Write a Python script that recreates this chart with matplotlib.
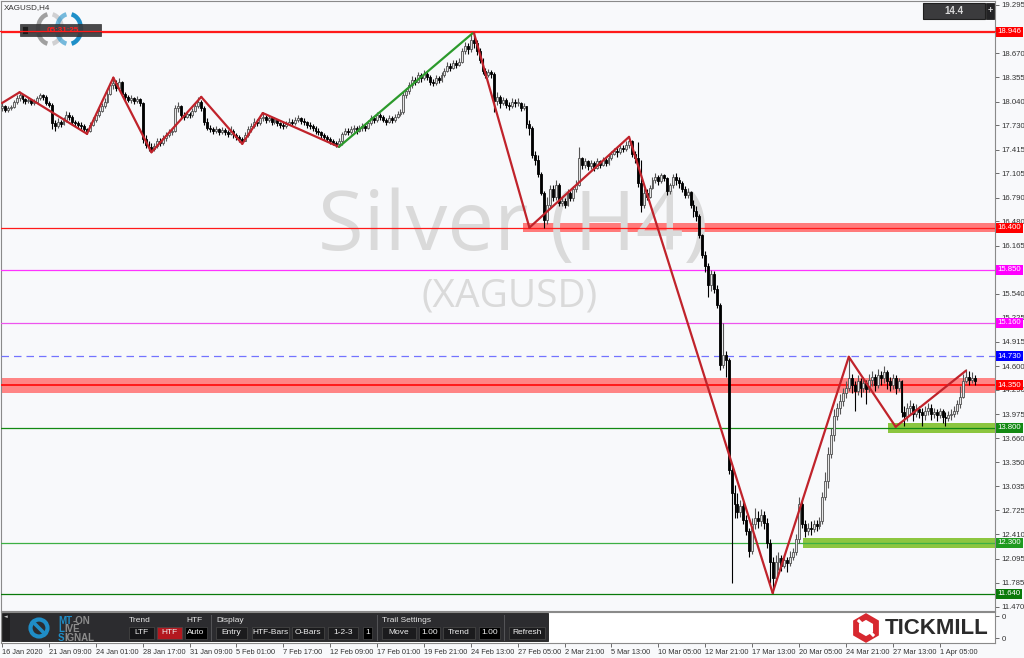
import numpy as np
import matplotlib.pyplot as plt
from matplotlib.patches import Rectangle, Circle, RegularPolygon, Arc
from matplotlib.transforms import blended_transform_factory

plt.rcParams['font.family'] = ['Liberation Sans', 'DejaVu Sans']

W, H = 1024, 658

# ---------------------------------------------------------
# XAGUSD H4 bars (16 Jan 2020 .. 2 Apr 2020)
# ---------------------------------------------------------
first_open = 17.96
close = [
    17.98, 17.93, 17.95, 17.97, 18.03, 18.08, 18.12, 18.07, 18.05, 18.06, 18.02, 18.04, 18.08, 18.12, 18.10, 18.02,
    18.00, 17.76, 17.72, 17.78, 17.75, 17.80, 17.86, 17.84, 17.78, 17.76, 17.74, 17.72, 17.68, 17.66, 17.74, 17.80,
    17.86, 17.92, 17.98, 18.04, 18.14, 18.26, 18.28, 18.22, 18.30, 18.14, 18.10, 18.06, 18.08, 18.05, 18.07, 18.02,
    17.55, 17.48, 17.45, 17.42, 17.46, 17.52, 17.50, 17.56, 17.60, 17.64, 17.66, 17.95, 17.98, 17.86, 17.84, 17.88,
    17.86, 17.92, 17.98, 18.04, 17.96, 17.78, 17.70, 17.68, 17.66, 17.68, 17.65, 17.67, 17.64, 17.62, 17.66, 17.60,
    17.58, 17.55, 17.53, 17.60, 17.68, 17.72, 17.78, 17.76, 17.82, 17.84, 17.80, 17.82, 17.78, 17.80, 17.76, 17.74,
    17.72, 17.75, 17.78, 17.76, 17.80, 17.82, 17.79, 17.77, 17.74, 17.72, 17.70, 17.66, 17.64, 17.60, 17.58, 17.55,
    17.53, 17.50, 17.49, 17.52, 17.62, 17.66, 17.64, 17.68, 17.70, 17.66, 17.69, 17.72, 17.70, 17.76, 17.82, 17.80,
    17.86, 17.84, 17.80, 17.78, 17.82, 17.80, 17.84, 17.88, 17.90, 18.12, 18.18, 18.26, 18.32, 18.30, 18.38, 18.34,
    18.40, 18.36, 18.30, 18.28, 18.34, 18.32, 18.38, 18.44, 18.50, 18.48, 18.54, 18.52, 18.56, 18.70, 18.76, 18.72,
    18.84, 18.80, 18.70, 18.58, 18.44, 18.38, 18.42, 18.40, 18.05, 18.10, 18.02, 18.06, 18.00, 17.98, 18.04, 18.02,
    18.02, 17.95, 17.98, 17.75, 17.70, 17.35, 17.28, 17.10, 16.85, 16.50, 16.70, 16.90, 16.80, 16.95, 16.72, 16.75,
    16.70, 16.85, 16.78, 16.90, 16.96, 17.30, 17.22, 17.26, 17.20, 17.24, 17.18, 17.26, 17.22, 17.28, 17.24, 17.30,
    17.36, 17.40, 17.38, 17.44, 17.42, 17.48, 17.52, 17.36, 17.30, 16.98, 16.70, 16.85, 16.80, 16.92, 17.02, 17.06,
    17.00, 17.08, 17.04, 16.88, 16.95, 17.06, 17.02, 16.98, 16.90, 16.82, 16.86, 16.70, 16.62, 16.55, 16.30, 16.05,
    15.90, 15.65, 15.80, 15.60, 15.40, 14.62, 14.75, 14.68, 13.25, 12.95, 12.80, 12.70, 12.78, 12.60, 12.45, 12.20,
    12.55, 12.62, 12.58, 12.66, 12.56, 12.30, 12.05, 11.85, 12.05, 12.10, 12.00, 12.08, 12.04, 12.12, 12.18, 12.35,
    12.80, 12.55, 12.45, 12.50, 12.48, 12.54, 12.52, 12.58, 12.90, 13.10, 13.45, 13.70, 13.95, 14.05, 14.15, 14.25,
    14.32, 14.45, 14.35, 14.28, 14.40, 14.32, 14.38, 14.30, 14.42, 14.46, 14.36, 14.48, 14.44, 14.52, 14.40, 14.36,
    14.44, 14.32, 14.40, 14.00, 13.95, 14.05, 14.08, 13.98, 14.04, 14.00, 13.96, 14.02, 14.06, 13.98, 14.00, 13.96,
    14.02, 13.94, 13.92, 13.96, 13.98, 14.02, 14.10, 14.20, 14.40, 14.46, 14.42, 14.44, 14.40,
]
high = [
    18.02, 17.99, 17.98, 18.00, 18.06, 18.12, 18.16, 18.13, 18.09, 18.10, 18.07, 18.07, 18.11, 18.15, 18.14, 18.12,
    18.05, 18.02, 17.80, 17.82, 17.80, 17.84, 17.92, 17.90, 17.86, 17.80, 17.79, 17.77, 17.75, 17.70, 17.78, 17.84,
    17.90, 17.96, 18.02, 18.08, 18.18, 18.30, 18.35, 18.32, 18.34, 18.31, 18.16, 18.13, 18.12, 18.10, 18.11, 18.09,
    18.04, 17.60, 17.52, 17.50, 17.50, 17.56, 17.56, 17.60, 17.64, 17.68, 17.70, 17.99, 18.04, 17.99, 17.90, 17.92,
    17.91, 17.96, 18.02, 18.10, 18.06, 17.98, 17.82, 17.73, 17.71, 17.72, 17.70, 17.71, 17.69, 17.67, 17.72, 17.68,
    17.63, 17.61, 17.58, 17.64, 17.72, 17.76, 17.82, 17.81, 17.86, 17.89, 17.86, 17.86, 17.84, 17.84, 17.81, 17.78,
    17.77, 17.79, 17.82, 17.81, 17.84, 17.86, 17.84, 17.82, 17.79, 17.77, 17.75, 17.72, 17.69, 17.66, 17.63, 17.61,
    17.58, 17.55, 17.53, 17.56, 17.65, 17.70, 17.69, 17.72, 17.74, 17.72, 17.73, 17.76, 17.75, 17.80, 17.86, 17.85,
    17.90, 17.89, 17.86, 17.83, 17.86, 17.85, 17.88, 17.92, 17.94, 18.16, 18.22, 18.30, 18.37, 18.36, 18.42, 18.41,
    18.45, 18.43, 18.38, 18.33, 18.38, 18.37, 18.42, 18.48, 18.55, 18.54, 18.58, 18.58, 18.60, 18.74, 18.82, 18.80,
    18.92, 18.94, 18.84, 18.74, 18.60, 18.48, 18.46, 18.45, 18.42, 18.16, 18.12, 18.10, 18.08, 18.04, 18.08, 18.07,
    18.08, 18.04, 18.02, 17.98, 17.80, 17.72, 17.40, 17.35, 17.12, 16.88, 16.80, 16.96, 16.95, 17.02, 16.98, 16.80,
    16.78, 16.90, 16.88, 16.94, 17.02, 17.45, 17.32, 17.30, 17.28, 17.28, 17.26, 17.30, 17.28, 17.32, 17.30, 17.34,
    17.40, 17.44, 17.45, 17.48, 17.48, 17.52, 17.58, 17.54, 17.40, 17.51, 17.28, 16.92, 16.90, 16.96, 17.06, 17.11,
    17.08, 17.11, 17.10, 17.06, 16.98, 17.10, 17.11, 17.06, 17.00, 16.94, 16.92, 16.88, 16.76, 16.68, 16.58, 16.32,
    16.10, 15.94, 15.85, 15.84, 15.66, 15.42, 15.16, 14.80, 14.70, 13.30, 13.05, 12.95, 12.86, 12.84, 12.66, 12.50,
    12.62, 12.75, 12.72, 12.74, 12.72, 12.62, 12.35, 12.12, 12.14, 12.18, 12.14, 12.15, 12.12, 12.20, 12.24, 12.42,
    12.90, 12.86, 12.60, 12.56, 12.58, 12.60, 12.60, 12.64, 12.96, 13.22, 13.55, 13.80, 14.04, 14.12, 14.24, 14.32,
    14.40, 14.70, 14.50, 14.40, 14.48, 14.44, 14.46, 14.42, 14.50, 14.54, 14.50, 14.56, 14.54, 14.60, 14.55, 14.46,
    14.50, 14.48, 14.45, 14.42, 14.08, 14.12, 14.16, 14.12, 14.10, 14.08, 14.06, 14.08, 14.12, 14.10, 14.06, 14.04,
    14.06, 14.04, 14.00, 14.02, 14.04, 14.08, 14.16, 14.34, 14.50, 14.56, 14.54, 14.52, 14.48,
]
low = [
    17.92, 17.90, 17.91, 17.93, 17.95, 18.01, 18.05, 18.02, 18.01, 18.02, 17.99, 18.00, 18.02, 18.06, 18.06, 17.99,
    17.97, 17.68, 17.66, 17.70, 17.71, 17.73, 17.78, 17.80, 17.74, 17.72, 17.70, 17.68, 17.64, 17.62, 17.64, 17.72,
    17.78, 17.84, 17.90, 17.96, 18.02, 18.12, 18.20, 18.18, 18.20, 18.12, 18.06, 18.03, 18.02, 18.01, 18.02, 17.98,
    17.50, 17.43, 17.40, 17.38, 17.40, 17.44, 17.46, 17.48, 17.53, 17.58, 17.60, 17.64, 17.90, 17.82, 17.80, 17.82,
    17.82, 17.84, 17.90, 17.96, 17.92, 17.74, 17.67, 17.64, 17.62, 17.63, 17.61, 17.62, 17.60, 17.58, 17.60, 17.56,
    17.54, 17.51, 17.49, 17.52, 17.58, 17.65, 17.70, 17.72, 17.74, 17.79, 17.76, 17.77, 17.74, 17.75, 17.72, 17.70,
    17.68, 17.70, 17.73, 17.72, 17.74, 17.77, 17.75, 17.73, 17.70, 17.68, 17.66, 17.62, 17.60, 17.56, 17.54, 17.51,
    17.49, 17.47, 17.45, 17.46, 17.48, 17.60, 17.60, 17.62, 17.65, 17.62, 17.64, 17.66, 17.66, 17.68, 17.74, 17.76,
    17.78, 17.80, 17.77, 17.74, 17.76, 17.76, 17.78, 17.82, 17.85, 17.88, 18.08, 18.14, 18.22, 18.26, 18.28, 18.30,
    18.32, 18.32, 18.26, 18.24, 18.26, 18.28, 18.30, 18.36, 18.42, 18.44, 18.46, 18.48, 18.50, 18.54, 18.66, 18.66,
    18.68, 18.74, 18.64, 18.54, 18.40, 18.34, 18.36, 18.34, 17.90, 18.00, 17.96, 17.99, 17.95, 17.93, 17.96, 17.97,
    17.98, 17.92, 17.93, 17.70, 17.60, 17.30, 17.22, 17.06, 16.82, 16.40, 16.45, 16.66, 16.74, 16.76, 16.68, 16.68,
    16.66, 16.68, 16.74, 16.74, 16.86, 16.94, 17.16, 17.18, 17.15, 17.16, 17.14, 17.16, 17.18, 17.20, 17.20, 17.22,
    17.28, 17.34, 17.32, 17.36, 17.38, 17.40, 17.44, 17.32, 17.24, 16.93, 16.60, 16.66, 16.76, 16.78, 16.90, 16.98,
    16.96, 16.98, 17.00, 16.82, 16.84, 16.92, 16.96, 16.92, 16.86, 16.78, 16.78, 16.66, 16.54, 16.48, 16.26, 16.00,
    15.82, 15.50, 15.58, 15.55, 15.35, 14.55, 14.58, 14.46, 13.20, 11.78, 12.62, 12.62, 12.64, 12.55, 12.40, 12.12,
    12.16, 12.48, 12.50, 12.52, 12.48, 12.24, 11.78, 11.65, 11.82, 11.95, 11.94, 11.98, 11.92, 12.00, 12.08, 12.14,
    12.30, 12.50, 12.38, 12.40, 12.40, 12.44, 12.45, 12.48, 12.55, 12.86, 13.02, 13.40, 13.62, 13.90, 13.98, 14.08,
    14.18, 14.28, 14.25, 14.02, 14.22, 14.20, 14.26, 14.10, 14.26, 14.34, 14.28, 14.32, 14.36, 14.38, 14.30, 14.28,
    14.30, 14.24, 14.28, 13.94, 13.82, 13.88, 13.98, 13.88, 13.94, 13.92, 13.82, 13.90, 13.96, 13.90, 13.92, 13.88,
    13.92, 13.86, 13.82, 13.88, 13.90, 13.94, 13.98, 14.06, 14.18, 14.38, 14.36, 14.38, 14.36,
]

# time axis labels, one every 16 bars
date_labels = ["16 Jan 2020", "21 Jan 09:00", "24 Jan 01:00", "28 Jan 17:00", "31 Jan 09:00",
               "5 Feb 01:00", "7 Feb 17:00", "12 Feb 09:00", "17 Feb 01:00", "19 Feb 21:00",
               "24 Feb 13:00", "27 Feb 05:00", "2 Mar 21:00", "5 Mar 13:00", "10 Mar 05:00",
               "12 Mar 21:00", "17 Mar 13:00", "20 Mar 05:00", "24 Mar 21:00", "27 Mar 13:00",
               "1 Apr 05:00"]
label_step = 16

price_ticks = [19.295, 18.670, 18.355, 18.040, 17.730, 17.415, 17.105, 16.790, 16.480,
               16.165, 15.540, 15.225, 14.915, 14.600, 14.290, 13.975, 13.660, 13.350,
               13.035, 12.725, 12.410, 12.095, 11.785, 11.470]

# zigzag pivots (bar index, price)
zz_bars = [0, 6, 29, 38, 51, 68, 82, 89, 115, 161, 180, 214, 263, 289, 305, 329]
zz_price = [18.02, 18.16, 17.62, 18.35, 17.38, 18.10, 17.49, 17.89, 17.45, 18.94,
            16.40, 17.58, 11.65, 14.72, 13.81, 14.54]
zz_green_segment = 8

# horizontal levels
lvl_price = [18.946, 16.400, 15.850, 15.160, 14.730, 14.350, 13.800, 12.300, 11.640]
lvl_color = ['#ff1a1a', '#ff1a1a', '#ff33ff', '#ee55ee', '#7373ff', '#ff1a1a', '#138a13', '#3cb043', '#0a7a0a']
lvl_tag = ['#ff0000', '#ff0000', '#ff00ff', '#ff00ff', '#0000ff', '#ff0000', '#138a13', '#1f9a1f', '#0a7a0a']

# zones: centre, half height, first bar
zone_price = [16.40, 14.35, 13.80, 12.30]
zone_half = [0.055, 0.10, 0.065, 0.065]
zone_start = [177.8, -1, 302.4, 273.4]
zone_color = ['#ff7b7b', '#ff8585', '#8cc63f', '#8cc63f']

# ---------------------------------------------------------
opens = [first_open] + close[:-1]
n = len(close)
xs = np.arange(n)

fig = plt.figure(figsize=(W / 100, H / 100), dpi=100)
fig.patch.set_facecolor('#f8f9fb')


def fx(px):
    return px / W


def fy(py):
    return 1 - py / H


x0, x1 = -0.34, 338.9
ax = fig.add_axes([fx(1), fy(611), (995 - 1) / W, (611 - 1) / H])
ax.set_facecolor('#f8f9fb')
ax.set_xlim(x0, x1)
ax.set_ylim(11.4147, 19.347)

# zones
for p, hh, s, c in zip(zone_price, zone_half, zone_start, zone_color):
    ax.fill_between([s, x1 + 5], p - hh, p + hh, color=c, lw=0, zorder=1)

# watermark
ax.text(fx(513), fy(250), "Silver (H4)", transform=fig.transFigure, ha='center', va='baseline',
        fontsize=60, color='#dadada', family='Open Sans', zorder=2)
ax.text(fx(510), fy(307), "(XAGUSD)", transform=fig.transFigure, ha='center', va='baseline',
        fontsize=28, color='#dadada', family='Open Sans', zorder=2)

# levels
for p, c in zip(lvl_price, lvl_color):
    ls = (0, (6, 4)) if abs(p - 14.73) < 1e-6 else '-'
    lw = 1.4 if p in (14.35,) else 0.9
    ax.axhline(p, color=c, lw=lw, ls=ls, zorder=3)

# candles
o = np.array(opens)
c = np.array(close)
up = c >= o
bot = np.minimum(o, c)
ht = np.maximum(np.abs(c - o), 0.01)
wick_col = np.where(up, '#555555', '#000000')
ax.vlines(xs, low, high, colors=wick_col, lw=0.8, zorder=4)
ax.bar(xs, ht, bottom=bot, width=0.66, color=np.where(up, '#e6e6e6', '#000000'),
       edgecolor=np.where(up, '#505050', '#000000'), linewidth=0.6, zorder=5)

# zigzag
for k in range(len(zz_bars) - 1):
    col = '#2c9a2c' if k == zz_green_segment else '#c0232b'
    ax.plot(zz_bars[k:k + 2], zz_price[k:k + 2], color=col, lw=1.6, zorder=6,
            solid_capstyle='round')

# right price scale
ax.yaxis.tick_right()
ax.set_yticks(price_ticks)
ax.set_yticklabels([f"{v:.3f}" for v in price_ticks])
ax.tick_params(axis='y', length=3, width=0.6, color='#555555', labelsize=5.6,
               labelcolor='#333333', pad=1.5)
ax.set_xticks([])
for s in ax.spines.values():
    s.set_color('#8a8a8a')
    s.set_linewidth(0.8)

tr = blended_transform_factory(ax.transAxes, ax.transData)
for p, bg in zip(lvl_price, lvl_tag):
    ax.text(1.0025, p, f"{p:.3f}", transform=tr, ha='left', va='center', fontsize=5.6,
            color='white', zorder=8, clip_on=False,
            bbox=dict(boxstyle='square,pad=0.2', fc=bg, ec='none'))

# sub window with time axis
sub = fig.add_axes([fx(1), fy(643), (995 - 1) / W, (643 - 612) / H])
sub.set_facecolor('white')
sub.set_xlim(x0, x1)
sub.set_ylim(0, 1)
tick_pos = [i * label_step for i in range(len(date_labels))]
sub.set_xticks(tick_pos)
sub.set_xticklabels(date_labels)
for t in sub.get_xticklabels():
    t.set_ha('left')
sub.tick_params(axis='x', length=3, width=0.6, color='#555555', labelsize=5.3,
                labelcolor='#333333', pad=1.5)
sub.yaxis.tick_right()
sub.set_yticks([0.87, 0.16])
sub.set_yticklabels(['0', '0'])
sub.tick_params(axis='y', length=3, width=0.6, color='#555555', labelsize=5.6,
                labelcolor='#333333', pad=1.5)
for s in sub.spines.values():
    s.set_color('#8a8a8a')
    s.set_linewidth(0.8)

# ---------------------------------------------------------
# overlay: terminal decorations in pixel units
# ---------------------------------------------------------
ov = fig.add_axes([0, 0, 1, 1], zorder=20)
ov.set_xlim(0, W)
ov.set_ylim(H, 0)
ov.axis('off')
ov.patch.set_alpha(0)
renderer = fig.canvas.get_renderer()
inv = ov.transData.inverted()

# symbol caption + clock box
ov.text(4, 8, "XAGUSD,H4", fontsize=5.8, color='#333333', va='center')
ov.add_patch(Arc((50, 29), 24, 30, theta1=100, theta2=260, lw=3.2, color='#a0a0a0'))
ov.add_patch(Arc((50, 29), 24, 30, theta1=-80, theta2=80, lw=3.2, color='#a0a0a0', alpha=0.45))
ov.add_patch(Arc((69, 29), 24, 30, theta1=-80, theta2=80, lw=3.2, color='#1e8fc8'))
ov.add_patch(Arc((69, 29), 24, 30, theta1=100, theta2=260, lw=3.2, color='#1e8fc8', alpha=0.6))
ov.add_patch(Rectangle((20, 24), 81, 12, fc='#3a3a3c', ec='#2a2a2a', lw=0.5, alpha=0.92))
ov.add_patch(Rectangle((22, 26), 6, 8, fc='#1c1c1c', ec='#555555', lw=0.4))
ov.text(63, 30, "05:31:25", fontsize=5.8, color='#ff2020', ha='center', va='center', weight='bold')
ov.plot([0, 995], [31, 31], color='#ff1a1a', lw=0.9)

# top-right value box
ov.add_patch(Rectangle((923, 3), 62, 16, fc='#3b3b3d', ec='#1f1f1f', lw=0.8))
ov.text(954, 11, "14.4", fontsize=7, color='#d9d9d9', ha='center', va='center', weight='bold')
ov.add_patch(Rectangle((986, 3), 8, 16, fc='#232325', ec='#1f1f1f', lw=0.6))
ov.text(990, 11, "+", fontsize=6.5, color='#dddddd', ha='center', va='center', weight='bold')

# toolbar
ov.add_patch(Rectangle((2, 613), 546, 28, fc='#2c2c2f', ec='#1c1c1c', lw=0.6))
ov.add_patch(Rectangle((3, 614), 7, 27, fc='#1e1e20', ec='none'))
ov.text(6, 617, "\u25c4", fontsize=3.5, color='#cccccc', ha='center', va='center', family='DejaVu Sans')
ov.add_patch(Circle((39, 628), 8.5, fill=False, ec='#1f8dc6', lw=3))
ov.plot([33, 45], [622, 634], color='#1f8dc6', lw=2.6)
for yy, head, tail in [(621, "MT", "-ON"), (629.5, "L", "IVE"), (638, "S", "IGNAL")]:
    th = ov.text(58, yy, head, fontsize=7, color='#1f8dc6', weight='bold', va='center')
    bb = th.get_window_extent(renderer)
    xe = inv.transform((bb.x1, bb.y0))[0]
    ov.text(xe + 0.3, yy, tail, fontsize=7, color='#8c8c8c', weight='bold', va='center')

for txt, xx in [("Trend", 129), ("HTF", 186), ("Display", 216), ("Trail Settings", 382)]:
    ov.text(xx, 620.5, txt, fontsize=6, color='#e6e6e6', va='center')
buttons = [("LTF", 129, 154, '#151517'), ("HTF", 157, 182, '#b3181f'), ("Auto", 185, 207, '#000000'),
           ("Entry", 216, 247, '#1b1b1d'), ("HTF-Bars", 252, 289, '#1b1b1d'), ("O-Bars", 292, 324, '#1b1b1d'),
           ("1-2-3", 328, 358, '#1b1b1d'), ("1", 363, 372, '#000000'), ("Move", 382, 416, '#1b1b1d'),
           ("1.00", 419, 440, '#000000'), ("Trend", 443, 475, '#1b1b1d'), ("1.00", 479, 500, '#000000'),
           ("Refresh", 509, 545, '#1b1b1d')]
for txt, a, b, col in buttons:
    ov.add_patch(Rectangle((a, 627), b - a, 12, fc=col, ec='#4a4a4a', lw=0.5))
    ov.text((a + b) / 2, 633, txt, fontsize=6, color='#eeeeee', ha='center', va='center')
for xx in [211, 377, 504]:
    ov.plot([xx, xx], [615, 640], color='#555558', lw=0.7)

# Tickmill logo
ov.add_patch(RegularPolygon((866, 628), 6, radius=11.5, orientation=0, fc='none', ec='#d7282f', lw=4.2))
ov.plot([859, 873], [621, 635], color='white', lw=2.2)
ov.text(885, 628.5, "TICKMILL", fontsize=16, color='#2b2b2b', weight='bold', va='center')

fig.savefig('out.png', dpi=100, facecolor=fig.get_facecolor())
